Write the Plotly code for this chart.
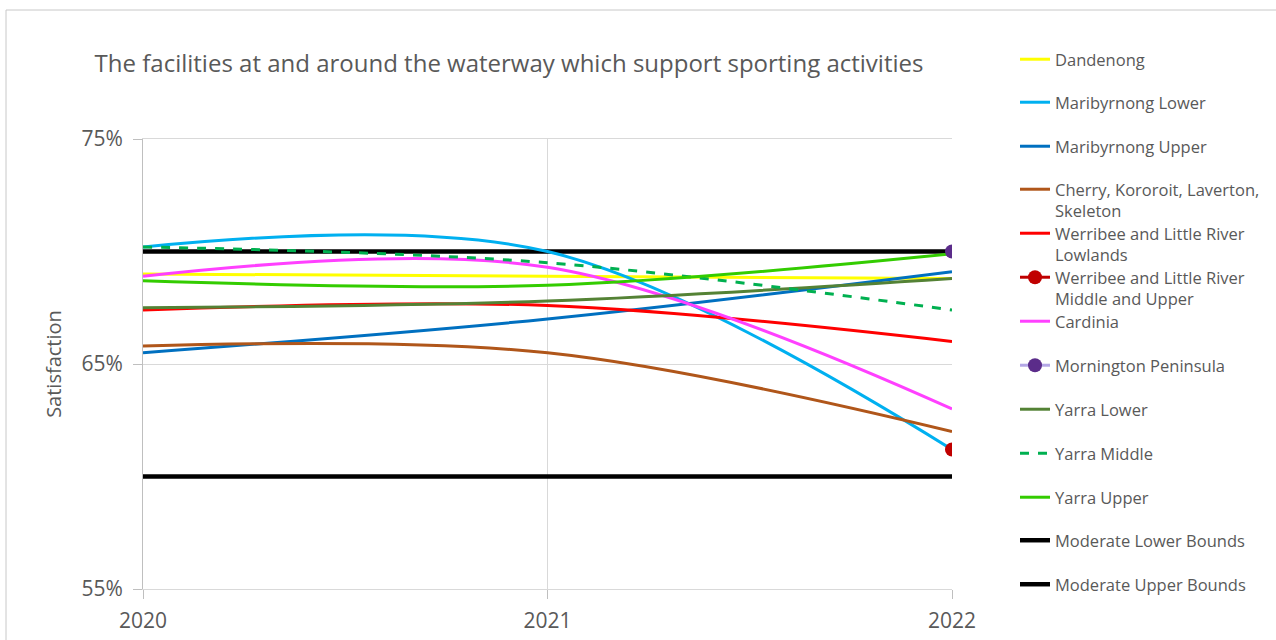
import plotly.graph_objects as go

# Survey years on the x axis
years = [2020, 2021, 2022]

# Satisfaction (%) per waterway
dandenong = [69.0, 68.9, 68.8]
maribyrnong_lower = [70.2, 70.0, 61.2]
maribyrnong_upper = [65.5, 67.0, 69.1]
cherry_kororoit = [65.8, 65.5, 62.0]
werribee_lowlands = [67.4, 67.6, 66.0]
werribee_mid_upper = [None, None, 61.2]
cardinia = [68.9, 69.3, 63.0]
mornington = [None, None, 70.0]
yarra_lower = [67.5, 67.8, 68.8]
yarra_middle = [70.2, 69.5, 67.4]
yarra_upper = [68.7, 68.5, 69.9]
moderate_lower = [60, 60, 60]
moderate_upper = [70, 70, 70]

y_ticks = [55, 65, 75]
y_tick_labels = ["55%", "65%", "75%"]
x_ticks = [2020, 2021, 2022]
x_tick_labels = ["2020", "2021", "2022"]

TEXT = "#595959"
FONT = "Open Sans"

# name, values, line colour, dash, width, marker colour (None = no marker), legend row (px)
series = [
    ("Moderate Lower Bounds", moderate_lower, "#000000", "solid", 4.5, None, 541),
    ("Moderate Upper Bounds", moderate_upper, "#000000", "solid", 4.5, None, 585),
    ("Dandenong", dandenong, "#FFFF00", "solid", 3, None, 60),
    ("Maribyrnong Lower", maribyrnong_lower, "#00B0F0", "solid", 3, None, 103),
    ("Maribyrnong Upper", maribyrnong_upper, "#0070C0", "solid", 3, None, 147),
    ("Cherry, Kororoit, Laverton,<br>Skeleton", cherry_kororoit, "#B0561A", "solid", 3, None, 190),
    ("Werribee and Little River<br>Lowlands", werribee_lowlands, "#FF0000", "solid", 3, None, 234),
    ("Cardinia", cardinia, "#FF40FF", "solid", 3, None, 322),
    ("Yarra Lower", yarra_lower, "#548235", "solid", 3, None, 410),
    ("Yarra Middle", yarra_middle, "#00B050", "dash", 3, None, 454),
    ("Yarra Upper", yarra_upper, "#33CC00", "solid", 3, None, 498),
    ("Werribee and Little River<br>Middle and Upper", werribee_mid_upper, "#C00000", "solid", 3, "#C00000", 278),
    ("Mornington Peninsula", mornington, "#B4A7E6", "solid", 3, "#5B2C8A", 366),
]

fig = go.Figure()
layout_legends = {}
for i, (name, vals, color, dash, width, mcolor, row_px) in enumerate(series):
    key = "legend" if i == 0 else f"legend{i + 1}"
    trace = dict(
        x=years,
        y=vals,
        name=name,
        legend=key,
        line=dict(color=color, width=width, dash=dash, shape="spline", smoothing=1),
        hoverinfo="name+y",
    )
    if mcolor:
        trace["mode"] = "lines+markers"
        trace["marker"] = dict(color=mcolor, size=14)
    else:
        trace["mode"] = "lines"
    fig.add_trace(go.Scatter(**trace))
    layout_legends[key] = dict(
        xref="container",
        yref="container",
        x=1015 / 1276,
        y=1 - (row_px - 18) / 640,
        xanchor="left",
        yanchor="top",
        valign="top",
        bgcolor="rgba(0,0,0,0)",
        borderwidth=0,
        font=dict(family=FONT, size=16.5, color=TEXT),
    )

fig.update_layout(
    width=1276,
    height=640,
    margin=dict(l=143, r=324, t=139, b=51, autoexpand=False),
    paper_bgcolor="white",
    plot_bgcolor="white",
    showlegend=True,
    title=dict(
        text="The facilities at and around the waterway which support sporting activities",
        x=509 / 1276,
        xanchor="center",
        y=1 - 64 / 640,
        yanchor="middle",
        font=dict(family=FONT, size=24, color=TEXT),
    ),
    xaxis=dict(
        range=[2020, 2022],
        tickvals=x_ticks,
        ticktext=x_tick_labels,
        automargin=False,
        showgrid=True,
        gridcolor="#D9D9D9",
        gridwidth=1,
        showline=True,
        linecolor="#D9D9D9",
        linewidth=1,
        mirror=True,
        zeroline=False,
        ticks="outside",
        ticklen=9,
        tickcolor="#BFBFBF",
        ticklabelstandoff=4,
        tickfont=dict(family=FONT, size=21, color=TEXT),
    ),
    yaxis=dict(
        range=[55, 75],
        tickvals=y_ticks,
        ticktext=y_tick_labels,
        automargin=False,
        showgrid=True,
        gridcolor="#D9D9D9",
        gridwidth=1,
        showline=True,
        linecolor="#BFBFBF",
        linewidth=1,
        zeroline=False,
        ticks="outside",
        ticklen=9,
        tickcolor="#BFBFBF",
        ticklabelstandoff=6,
        tickfont=dict(family=FONT, size=21, color=TEXT),
        title=dict(text="Satisfaction", standoff=14, font=dict(family=FONT, size=20, color=TEXT)),
    ),
    shapes=[
        dict(
            type="rect", xref="paper", yref="paper",
            x0=(6 - 143) / 809, x1=(1300 - 143) / 809,
            y0=(589 - 660) / 450, y1=(589 - 10) / 450,
            line=dict(color="#C8C8C8", width=1), fillcolor="rgba(0,0,0,0)", layer="below",
        )
    ],
    **layout_legends,
)

fig.write_html("out.html")
